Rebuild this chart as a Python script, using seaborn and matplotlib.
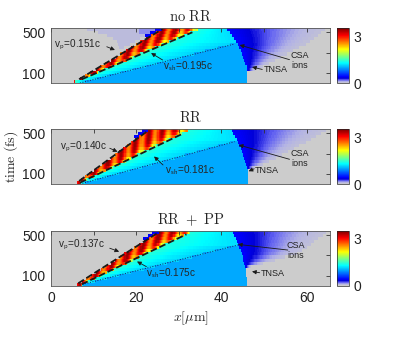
import numpy as np
import matplotlib
matplotlib.use("Agg")
import matplotlib.pyplot as plt
from matplotlib.colors import LinearSegmentedColormap
import seaborn as sns

# panel titles and velocity labels
titles = [r"$\mathrm{no\ RR}$", r"$\mathrm{RR}$", r"$\mathrm{RR\ +\ PP}$"]
vp_labels = ["0.151c", "0.140c", "0.137c"]
vsh_labels = ["0.195c", "0.181c", "0.175c"]

# dashed front of the hot wedge (x in um, t in fs)
front_x = [[6.6, 26.2], [6.6, 22.4], [6.4, 25.5]]
front_t = [[40, 533], [30, 514], [24, 533]]
# dashed rear of the wedge
rear_x = [[7.2, 33.2], [6.8, 30.8], [7.2, 31.8]]
rear_t = [[39, 501], [13, 494], [14, 507]]
# dotted shock line v_sh
shock_x = [[6.8, 43.1], [6.8, 43.1], [6.8, 43.9]]
shock_t = [[3, 386], [0, 418], [7, 402]]
# edge of the heated target (TNSA / CSA boundary)
edge_x = [[46.1, 46.1, 44.0, 41.1], [46.2, 46.2, 44.3, 42.3], [46.0, 45.8, 44.1, 42.6]]
edge_t = [[0, 140, 380, 540], [0, 137, 383, 540], [0, 154, 400, 540]]
# outer limit of the CSA ion cloud (staircase)
csa_x = [[46.5, 50.5, 55.2, 59.9, 63.0, 64.5],
         [46.5, 50.0, 55.0, 59.5, 63.0, 65.0],
         [46.5, 58.3, 65.0]]
csa_t = [[110, 180, 280, 380, 475, 540],
         [140, 200, 300, 400, 480, 540],
         [190, 320, 540]]
# faint halo ahead of the front (no RR only)
halo_x = [17.0, 16.0, 15.5, 13.3, 7.3]
halo_t = [300, 340, 415, 465, 540]

# levels of the main regions
level_sheath = 1.0
level_hot = 3.0

# annotations: (text pos), (arrow tail), (arrow head)
vp_txt = [(0.7, 376), (2.1, 368), (1.7, 402)]
vp_arr = [((13.1, 359), (15.0, 327)), ((13.8, 353), (15.6, 319)), ((13.8, 370), (16.0, 336))]
vsh_txt = [(26.2, 170), (26.7, 138), (22.4, 122)]
vsh_arr = [((26.2, 229), (23.5, 297)), ((26.3, 188), (24.2, 272)), ((22.4, 188), (20.2, 239))]
csa_txt = [(58.3, 224), (58.3, 249), (57.5, 345)]
csa_arr = [((56.0, 232), (44.3, 376)), ((56.0, 244), (44.1, 385)), ((55.6, 352), (43.9, 408))]
tnsa_txt = [(49.9, 131), (47.8, 138), (49.3, 122)]
tnsa_arr = [((49.6, 136), (47.2, 160)), ((47.7, 150), (46.4, 126)), ((49.0, 128), (47.2, 140))]

x = np.arange(0, 65.5, 0.25) + 0.125
t = np.arange(0, 540, 30) + 15


def line_at(px, pt, tt):
    slope = (px[1] - px[0]) / (pt[1] - pt[0])
    return px[0] + (tt - pt[0]) * slope


def build_field(i):
    X, T = np.meshgrid(x, t)
    rows = np.arange(len(t))[:, None] * np.ones_like(X)
    xf = line_at(front_x[i], front_t[i], T)
    xr = line_at(rear_x[i], rear_t[i], T)
    xd = line_at(shock_x[i], shock_t[i], T)
    xb = np.interp(T, edge_t[i], edge_x[i])
    xg = np.interp(T, csa_t[i], csa_x[i])
    xg = np.where(T < csa_t[i][0], xb, np.maximum(xg, xb))
    Z = np.zeros_like(X)

    # CSA ion cloud beyond the edge
    csa = (X >= xb) & (X < xg)
    r = (X - xb) / np.maximum(xg - xb, 1e-6)
    Z[csa] = 0.06 + 0.38 * (1 - r[csa]) ** 1.5

    inside = X < xb
    # sheath below the shock line
    Z[inside & (X >= xd)] = level_sheath
    # region between rear of wedge and shock
    mid = inside & (X >= xr) & (X < xd)
    s = np.clip((X - xr) / np.maximum(xd - xr, 1e-6), 0, 1)
    Z[mid] = 1.5 - 0.35 * s[mid] ** 0.6
    top = inside & (X >= xr) & (xd > xb)
    s2 = np.clip((X - xr) / np.maximum(xb - xr, 1e-6), 0, 1)
    Z[top] = 1.4 - 0.22 * s2[top]
    # hot wedge
    wedge = (X >= xf) & (X < xr)
    u = (X - xf) / np.maximum(xr - xf, 1e-6)
    hot = level_hot + 0.42 * np.sin(2 * np.pi * (X - xf) / 3.0 + rows * 1.9) - 0.9 * u ** 4
    Z[wedge] = np.clip(hot[wedge], 1.8, 3.45)

    # blue fringe just ahead of the front
    fringe = (X < xf) & (X >= xf - 1.4) & (T > 450)
    Z[fringe] = 0.42
    if i == 0:
        xh = np.interp(T, halo_t, halo_x)
        halo = (X < xf - 1.4) & (X > xh) & (T >= 300)
        Z[halo] = 0.08
        blu = (X < xf - 1.4) & (X > 20.8) & (T > 470)
        Z[blu] = 0.16
    return Z


cmap = LinearSegmentedColormap.from_list("grayjet", [
    (0.0, (0.80, 0.80, 0.80)),
    (0.03, (0.70, 0.70, 0.90)),
    (0.06, (0.38, 0.38, 0.95)),
    (0.09, (0.0, 0.0, 0.85)),
    (0.12, (0.0, 0.0, 1.0)),
    (0.37, (0.0, 1.0, 1.0)),
    (0.62, (1.0, 1.0, 0.0)),
    (0.87, (1.0, 0.0, 0.0)),
    (1.0, (0.5, 0.0, 0.0)),
])

sns.set_theme(style="white")
plt.rcParams['font.family'] = ['Liberation Sans', 'DejaVu Sans']
plt.rcParams['mathtext.fontset'] = 'cm'

fig = plt.figure(figsize=(3.99, 3.39), dpi=100)
bottoms = [0.7543, 0.4572, 0.1572]
heights = [0.1622, 0.1614, 0.1614]
arrow_kw = dict(arrowstyle='-|>', lw=0.6, color='k', mutation_scale=6, shrinkA=0, shrinkB=0)

for i in range(3):
    ax = fig.add_axes([0.1278, bottoms[i], 0.6992, heights[i]])
    cax = fig.add_axes([0.8454, bottoms[i], 0.0301, heights[i]])
    Z = build_field(i)
    im = ax.imshow(Z, extent=[0, 65.5, 0, 540], origin='lower', aspect='auto',
                   cmap=cmap, vmin=0, vmax=3.5, interpolation='nearest')
    sns.lineplot(x=front_x[i], y=front_t[i], ax=ax, color='k', linestyle='--', lw=1.3, legend=False)
    sns.lineplot(x=rear_x[i], y=rear_t[i], ax=ax, color='k', linestyle='--', lw=1.3, legend=False)
    sns.lineplot(x=shock_x[i], y=shock_t[i], ax=ax, color='#1a1a60', linestyle=':', lw=0.7, legend=False)
    ax.set_xlim(0, 65.5)
    ax.set_ylim(0, 540)
    ax.set_xticks(range(0, 61, 10))
    ax.set_yticks([100, 300, 500])
    ax.set_yticklabels(['100', '', '500'])
    if i == 2:
        ax.set_xticklabels(['0', '', '20', '', '40', '', '60'])
        ax.set_xlabel(r"$x[\mu\mathrm{m}]$", fontsize=10, labelpad=3)
    else:
        ax.set_xticklabels([])
        ax.set_xlabel('')
    ax.set_ylabel('')
    ax.tick_params(direction='in', top=True, right=True, length=3, width=0.6,
                   labelsize=10, colors='#333333', labelcolor='#222222', pad=4)
    for sp in ax.spines.values():
        sp.set_linewidth(0.6)
        sp.set_color('#555555')
    ax.set_title(titles[i], fontsize=10.5, pad=5)

    fs = 7.2
    ax.text(*vp_txt[i], r"v$_\mathsf{p}$=" + vp_labels[i], fontsize=fs, va='center', ha='left')
    ax.annotate("", xy=vp_arr[i][1], xytext=vp_arr[i][0], arrowprops=arrow_kw)
    ax.text(*vsh_txt[i], r"v$_\mathsf{sh}$=" + vsh_labels[i], fontsize=fs, va='center', ha='left')
    ax.annotate("", xy=vsh_arr[i][1], xytext=vsh_arr[i][0], arrowprops=arrow_kw)
    ax.text(*csa_txt[i], "CSA\nions", fontsize=6.5, va='center', ha='center', color='#222222',
            linespacing=1.2)
    ax.annotate("", xy=csa_arr[i][1], xytext=csa_arr[i][0], arrowprops=arrow_kw)
    ax.text(*tnsa_txt[i], "TNSA", fontsize=6.5, va='center', ha='left', color='#222222')
    ax.annotate("", xy=tnsa_arr[i][1], xytext=tnsa_arr[i][0], arrowprops=arrow_kw)

    cb = fig.colorbar(im, cax=cax, ticks=[0, 3])
    cb.outline.set_linewidth(0.5)
    cax.tick_params(length=0, labelsize=10, pad=3, labelcolor='#222222')

fig.text(0.028, 0.5378, r"$\mathrm{time\ (fs)}$", rotation=90, fontsize=10,
         ha='center', va='center')

fig.savefig("out.png", dpi=100)
